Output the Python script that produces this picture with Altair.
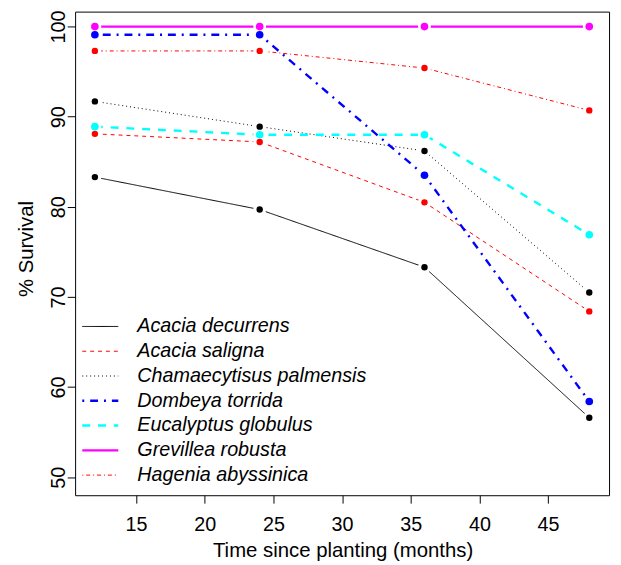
import altair as alt
import pandas as pd

months = [12, 24, 36, 48]
species = ["Acacia decurrens", "Acacia saligna", "Chamaecytisus palmensis",
           "Dombeya torrida", "Eucalyptus globulus", "Grevillea robusta",
           "Hagenia abyssinica"]
acacia_decurrens = [83.3, 79.7, 73.3, 56.6]
acacia_saligna = [88.1, 87.2, 80.5, 68.4]
chamaecytisus_palmensis = [91.7, 88.9, 86.2, 70.5]
dombeya_torrida = [99.1, 99.1, 83.5, 58.4]
eucalyptus_globulus = [88.9, 88.0, 88.0, 76.9]
grevillea_robusta = [100, 100, 100, 100]
hagenia_abyssinica = [97.3, 97.3, 95.4, 90.7]

series = [acacia_decurrens, acacia_saligna, chamaecytisus_palmensis,
          dombeya_torrida, eucalyptus_globulus, grevillea_robusta,
          hagenia_abyssinica]

x_ticks = [15, 20, 25, 30, 35, 40, 45]
y_ticks = [50, 60, 70, 80, 90, 100]

colors = ["#000000", "#FF0000", "#000000", "#0000FF", "#00FFFF", "#FF00FF", "#FF0000"]
dashes = [[1, 0], [4, 4], [1, 3], [2, 6, 8, 6], [8, 8], [1, 0], [1, 3, 4, 3]]
widths = [1, 1, 1, 2.4, 2.4, 2.4, 1]
point_sizes = [42, 42, 42, 60, 60, 60, 42]

rows = []
for name, vals in zip(species, series):
    for m, v in zip(months, vals):
        rows.append({"species": name, "month": m, "survival": v})
df = pd.DataFrame(rows)

FONT = "Liberation Sans"

x = alt.X("month:Q",
          scale=alt.Scale(domain=[10.56, 49.44], nice=False, zero=False),
          axis=alt.Axis(values=x_ticks, title="Time since planting (months)",
                        labelBaseline="top", labelPadding=12,
                        titleX=271, titleY=62, titleBaseline="alphabetic",
                        titleAlign="center"))
y = alt.Y("survival:Q",
          scale=alt.Scale(domain=[48, 101.66], nice=False, zero=False),
          axis=alt.Axis(values=y_ticks, title="% Survival",
                        labelAngle=270, labelAlign="center",
                        labelBaseline="middle", labelPadding=9,
                        titleAngle=270, titleX=-43, titleY=240,
                        titleBaseline="alphabetic", titleAlign="center"))

color_scale = alt.Scale(domain=species, range=colors)

base = alt.Chart(df)

lines = base.mark_line().encode(
    x=x, y=y,
    color=alt.Color("species:N", scale=color_scale, title=None,
                    legend=alt.Legend(symbolType="stroke")),
    strokeDash=alt.StrokeDash("species:N", scale=alt.Scale(domain=species, range=dashes), title=None),
    strokeWidth=alt.StrokeWidth("species:N",
                                scale=alt.Scale(type="ordinal", domain=species, range=widths),
                                title=None),
)

halo = base.mark_circle(color="white", size=170, opacity=1).encode(x=x, y=y)

points = base.mark_circle(opacity=1).encode(
    x=x, y=y,
    fill=alt.Fill("species:N", scale=alt.Scale(domain=species, range=colors), legend=None),
    size=alt.Size("species:N",
                  scale=alt.Scale(type="ordinal", domain=species, range=point_sizes),
                  legend=None),
)

chart = alt.layer(lines, halo, points).resolve_scale(
    size="independent"
).properties(
    width=541, height=490,
    autosize=alt.AutoSizeParams(type="none"),
    padding={"left": 68, "top": 0, "right": 4, "bottom": 66},
).configure_view(
    stroke="black", strokeWidth=1
).configure_axis(
    grid=False, domain=False, tickColor="black", tickSize=8, tickWidth=1,
    labelFont=FONT, labelFontSize=20, labelColor="black",
    titleFont=FONT, titleFontSize=20.6, titleFontWeight="normal", titleColor="black",
).configure_legend(
    orient="none", legendX=6, legendY=309, padding=0,
    symbolType="stroke", symbolSize=1332, labelOffset=18, rowPadding=5.1,
    clipHeight=20,
    labelFont=FONT, labelFontSize=20, labelFontStyle="italic", labelColor="black",
    labelLimit=400,
)

chart.save("out.html", embed_options={"renderer": "svg", "actions": False})
